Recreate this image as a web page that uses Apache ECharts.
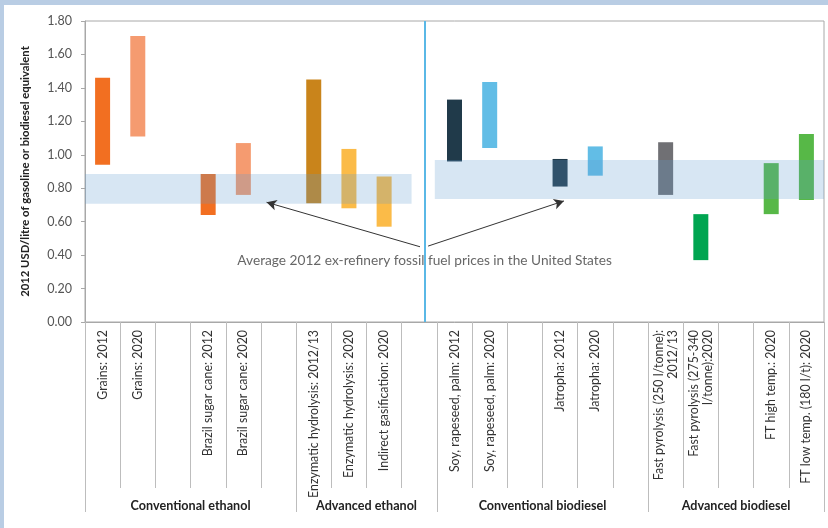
<!DOCTYPE html>
<html>
<head>
<meta charset="utf-8">
<script src="https://cdn.jsdelivr.net/npm/echarts@6/dist/echarts.min.js"></script>
<style>
html,body{margin:0;padding:0;background:#fff;}
#chart{width:828px;height:528px;}
</style>
</head>
<body>
<div id="chart"></div>
<script>
// ---- data ----
const categories = [
  "Grains: 2012", "Grains: 2020", "",
  "Brazil sugar cane: 2012", "Brazil sugar cane: 2020", "",
  "Enzymatic hydrolysis: 2012/13", "Enzymatic hydrolysis: 2020", "Indirect gasification: 2020", "",
  "Soy, rapeseed, palm: 2012", "Soy, rapeseed, palm: 2020", "",
  "Jatropha: 2012", "Jatropha: 2020", "",
  "Fast pyrolysis (250 l/tonne):\n2012/13", "Fast pyrolysis (275-340\nl/tonne):2020", "",
  "FT high temp.: 2020", "FT low temp. (180 l/t): 2020"
];
const lowValues  = [0.94, 1.11, null, 0.64, 0.76, null, 0.71, 0.68, 0.57, null, 0.96, 1.04, null, 0.81, 0.875, null, 0.76, 0.37, null, 0.645, 0.73];
const highValues = [1.46, 1.71, null, 0.885, 1.07, null, 1.45, 1.035, 0.87, null, 1.33, 1.435, null, 0.975, 1.05, null, 1.075, 0.645, null, 0.95, 1.125];
const barColors  = ["#f26f21", "#f59b70", null, "#f26f21", "#f59b70", null, "#c9841b", "#fbbb48", "#fbbb48", null, "#203a4a", "#62bde6", null, "#203a4a", "#62bde6", null, "#707074", "#00a551", null, "#57b847", "#57b847"];
const groupNames = ["Conventional ethanol", "Advanced ethanol", "Conventional biodiesel", "Advanced biodiesel"];
const groupStarts = [0, 6, 10, 16, 21];           // category boundaries of the groups
const yTicks = { min: 0, max: 1.8, interval: 0.2 };
const yAxisTitle = "2012 USD/litre of gasoline or biodiesel equivalent";
// fossil fuel price bands: [fromCat, toCat, low, high]
const fossilBands = [[0, 9.28, 0.707, 0.885], [9.94, 21, 0.736, 0.969]];
const dividerPos = 9.65;
const annotationText = "Average 2012 ex-refinery fossil fuel prices in the United States";
const annotationPoint = [9.65, 0.37];
const arrows = [[[9.52, 0.45], [5.16, 0.716]], [[9.75, 0.454], [13.61, 0.724]]];

// ---- derived ----
const baseData = lowValues.map(v => v == null ? null : v);
const rangeData = highValues.map((h, i) => h == null ? null : {
  value: +(h - lowValues[i]).toFixed(4),
  itemStyle: { color: barColors[i] }
});
// group axis: half-step points 0,0.5,...,21
const halfPts = [];
for (let k = 0; k <= 42; k++) halfPts.push("");
const groupLabelIdx = {};
const groupTickIdx = new Set();
groupStarts.forEach(s => groupTickIdx.add(s * 2));
for (let g = 0; g < groupNames.length; g++) {
  const idx = groupStarts[g] + groupStarts[g + 1];
  halfPts[idx] = groupNames[g];
  groupLabelIdx[idx] = true;
}

const FONT = "Lato";
const chart = echarts.init(document.getElementById('chart'), null, { renderer: 'canvas' });
chart.setOption({
  animation: false,
  backgroundColor: "#ffffff",
  textStyle: { fontFamily: FONT },
  graphic: [
    { type: 'rect', left: 0, top: 0, shape: { width: 828, height: 5 }, style: { fill: '#b9cde4' }, z: -10 },
    { type: 'rect', left: 0, top: 0, shape: { width: 4, height: 528 }, style: { fill: '#b9cde4' }, z: -10 }
  ],
  grid: { left: 85, right: 4, top: 21, bottom: 206, show: true, borderColor: '#a8a8a8', borderWidth: 1, containLabel: false },
  xAxis: [
    {
      type: 'category', data: categories, position: 'bottom',
      axisLine: { lineStyle: { color: '#a8a8a8' } },
      axisTick: { show: true, interval: 0, length: 166, lineStyle: { color: '#bdbdbd' } },
      axisLabel: { interval: 0, rotate: 90, margin: 8, fontSize: 12.4, color: '#333', fontFamily: FONT, lineHeight: 14 },
      splitLine: { show: false }
    },
    {
      type: 'category', data: halfPts, position: 'bottom', boundaryGap: false,
      axisLine: { show: false },
      axisTick: { show: true, length: 190, interval: (i) => groupTickIdx.has(i), lineStyle: { color: '#bdbdbd' } },
      axisLabel: { show: true, interval: (i) => !!groupLabelIdx[i], margin: 177, fontSize: 12.6, fontWeight: 'bold', color: '#222', fontFamily: FONT },
      splitLine: { show: false }
    },
    { type: 'value', min: 0, max: 21, show: false, position: 'top' }
  ],
  yAxis: [{
    type: 'value', min: yTicks.min, max: yTicks.max, interval: yTicks.interval,
    name: yAxisTitle, nameLocation: 'middle', nameGap: 54,
    nameTextStyle: { fontSize: 11.3, fontWeight: 'bold', color: '#222', fontFamily: FONT },
    axisLine: { show: true, lineStyle: { color: '#a8a8a8' } },
    axisTick: { show: true, length: 4, lineStyle: { color: '#a8a8a8' } },
    axisLabel: { formatter: v => v.toFixed(2), fontSize: 12.5, color: '#555', margin: 13, fontFamily: FONT },
    splitLine: { show: false }
  }],
  series: [
    { type: 'bar', name: 'base', stack: 'r', xAxisIndex: 0, yAxisIndex: 0, barWidth: 15, data: baseData,
      itemStyle: { color: 'rgba(0,0,0,0)' }, silent: true, z: 2 },
    { type: 'bar', name: 'range', stack: 'r', xAxisIndex: 0, yAxisIndex: 0, barWidth: 15, data: rangeData, z: 2 },
    {
      type: 'scatter', xAxisIndex: 2, yAxisIndex: 0, z: 10,
      symbolSize: 0, data: [annotationPoint],
      label: { show: true, position: 'inside', formatter: annotationText, fontSize: 13.7, color: '#404040', fontFamily: FONT },
      markArea: {
        silent: true, z: 10,
        itemStyle: { color: 'rgba(95,155,207,0.25)' },
        data: fossilBands.map(b => [{ coord: [b[0], b[2]] }, { coord: [b[1], b[3]] }])
      },
      markLine: {
        silent: true, z: 11, symbol: ['none', 'arrow'], symbolSize: [8, 10], precision: 4,
        label: { show: false },
        lineStyle: { color: '#333', width: 1, type: 'solid' },
        data: arrows.map(a => [{ coord: a[0] }, { coord: a[1] }]).concat([
          [{ coord: [dividerPos, yTicks.min], symbol: 'none', lineStyle: { color: '#5ab8e6', width: 2 } },
           { coord: [dividerPos, yTicks.max], symbol: 'none' }]
        ])
      }
    }
  ]
});
</script>
</body>
</html>
